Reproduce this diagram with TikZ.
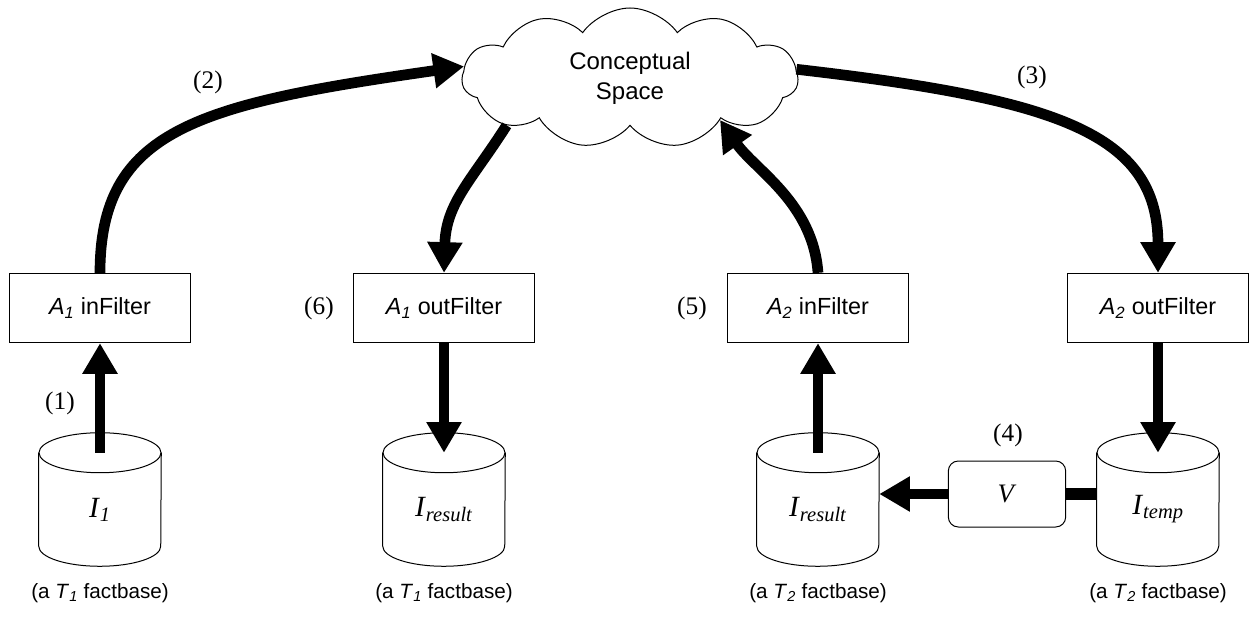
\documentclass[tikz,border=0pt]{standalone}
\usepackage{fontspec}
\setmainfont{Liberation Serif}
\setsansfont{Liberation Sans}
\usetikzlibrary{shapes.symbols,arrows.meta,calc}

\newcommand{\varsub}[2]{\textit{#1}\textsubscript{\textit{#2}}}

\tikzset{
    filterbox/.style={draw, line width=0.75pt, minimum width=136pt, minimum height=52pt, inner sep=0pt, font=\sffamily\fontsize{17.5}{20}\selectfont},
    factbase/.style={minimum width=91.5pt, minimum height=84.75pt, inner sep=0pt, font=\fontsize{22}{26}\selectfont},
    flow/.style={line width=8pt, -{Triangle[length=23pt,width=25pt]}},
    basecaption/.style={font=\sffamily\fontsize{15.5}{18}\selectfont},
    steplabel/.style={font=\fontsize{19}{22}\selectfont},
}

\begin{document}
\begin{tikzpicture}[x=0.75pt,y=0.75pt,yscale=-1,xscale=1]

    \useasboundingbox (0,0) rectangle (1249,620);

    \node (space) at (630,78) [draw, line width=0.75pt, cloud, cloud puffs=11, cloud puff arc=110, aspect=2.4, minimum width=252pt, minimum height=105pt, inner sep=0pt, align=center, font=\sffamily\fontsize{18}{22.5}\selectfont] {Conceptual\\Space};

    \node (inFilterA) at (100,308) [filterbox] {\varsub{A}{1} inFilter};
    \node (outFilterA) at (444,308) [filterbox] {\varsub{A}{1} outFilter};
    \node (inFilterB) at (818,308) [filterbox] {\varsub{A}{2} inFilter};
    \node (outFilterB) at (1158,308) [filterbox] {\varsub{A}{2} outFilter};

    \node (factA) at (100,509.5) [factbase] {\varsub{I}{1}};
    \node (resultA) at (444,509.5) [factbase] {\varsub{I}{result}};
    \node (resultB) at (818,509.5) [factbase] {\varsub{I}{result}};
    \node (tempB) at (1158,509.5) [factbase] {\varsub{I}{temp}};

    \foreach \cyl in {factA,resultA,resultB,tempB} {
        \draw[line width=0.75pt] (\cyl.north west) -- ($(\cyl.south west)+(0,-20)$) arc[start angle=180, end angle=0, x radius=45.75pt, y radius=15pt] -- (\cyl.north east);
        \draw[line width=0.75pt] (\cyl.north) ellipse [x radius=45.75pt, y radius=15pt];
    }

    \node (vbox) at (1007,494) [draw, line width=0.75pt, rounded corners=7.5pt, minimum width=88pt, minimum height=49.5pt, font=\fontsize{20}{24}\selectfont] {\textit{V}};

    \draw[flow] (factA.north) -- (inFilterA.south);
    \draw[flow] (inFilterA.north) .. controls +(0,-143) and +(-267,38) .. (space.176);
    \draw[flow] (space.3) .. controls +(260,30) and +(0,-140) .. (outFilterB.north);
    \draw[flow] (outFilterB.south) -- (tempB.north);
    \draw[line width=9pt] (vbox.east) -- (vbox.east -| tempB.west);
    \draw[flow] (vbox.west) -- (vbox.west -| resultB.east);
    \draw[flow] (resultB.north) -- (inFilterB.south);
    \draw[flow] (inFilterB.north) .. controls +(-5,-70) and +(35,50) .. (space.-25);
    \draw[flow] (space.201) .. controls +(-35,55) and +(2,-70) .. (outFilterA.north);
    \draw[flow] (outFilterA.south) -- (resultA.north);

    \node (n1) at (60,403) [steplabel] {(1)};
    \node (n2) at (208,82) [steplabel] {(2)};
    \node (n3) at (1032,77) [steplabel] {(3)};
    \node (n4) at (1008,435) [steplabel] {(4)};
    \node (n5) at (692,308) [steplabel] {(5)};
    \node (n6) at (319,308) [steplabel] {(6)};

    \node (capA) at (100,593) [basecaption] {(a \varsub{T}{1} factbase)};
    \node (capB) at (444,593) [basecaption] {(a \varsub{T}{1} factbase)};
    \node (capC) at (818,593) [basecaption] {(a \varsub{T}{2} factbase)};
    \node (capD) at (1158,593) [basecaption] {(a \varsub{T}{2} factbase)};

\end{tikzpicture}
\end{document}
